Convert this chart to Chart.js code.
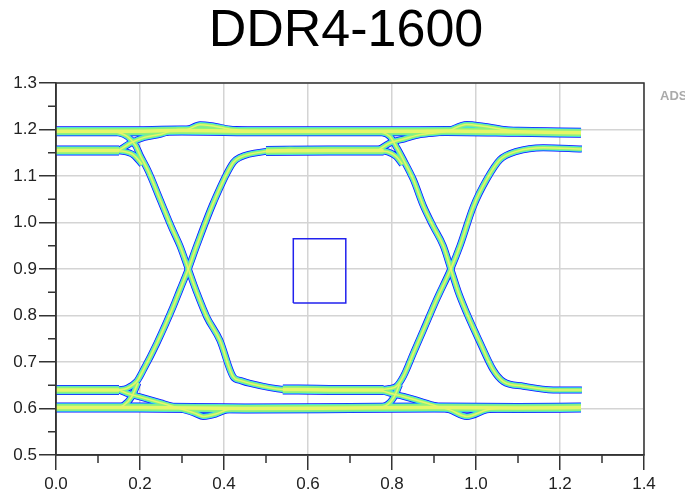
<!DOCTYPE html>
<html>
<head>
<meta charset="utf-8">
<script src="https://cdn.jsdelivr.net/npm/chart.js@4.4.1/dist/chart.umd.min.js"></script>
<style>
  body { margin: 0; background: #fff; }
  #wrap { width: 685px; height: 496px; position: relative; }
</style>
</head>
<body>
<div id="wrap"><canvas id="chart"></canvas></div>
<script>
const chartTitle = "DDR4-1600";

// axis ticks
const xTicks = [0, 0.2, 0.4, 0.6, 0.8, 1.0, 1.2, 1.4];
const yTicks = [0.5, 0.6, 0.7, 0.8, 0.9, 1.0, 1.1, 1.2, 1.3];
const xMinorTicks = [0.1, 0.3, 0.5, 0.7, 0.9, 1.1, 1.3];
const yMinorTicks = [0.55, 0.65, 0.75, 0.85, 0.95, 1.05, 1.15, 1.25];

// eye traces, [time ns, volts]
const highSettled = [[0, 1.196], [0.16, 1.196], [0.3, 1.198], [0.5, 1.196], [0.8, 1.196], [0.93, 1.197], [1.1, 1.195], [1.25, 1.193]];
const highFirst = [[0, 1.155], [0.15, 1.155]];
const highFirstMid = [[0.5, 1.154], [0.65, 1.155], [0.78, 1.155]];
const lowSettled = [[0, 0.602], [0.2, 0.602], [0.45, 0.6], [0.7, 0.601], [0.9, 0.602], [1.1, 0.601], [1.25, 0.602]];
const lowFirst = [[0, 0.64], [0.15, 0.64]];
const lowFirstMid = [[0.54, 0.641], [0.65, 0.64], [0.78, 0.64]];

const riseHighA = [[0.15, 1.155], [0.18, 1.172], [0.21, 1.183], [0.25, 1.19], [0.29, 1.2], [0.31, 1.2], [0.343, 1.21], [0.37, 1.208], [0.42, 1.2], [0.5, 1.197]];
const fallA = [[0.14, 1.196], [0.17, 1.185], [0.19, 1.165], [0.2, 1.145], [0.22, 1.11], [0.248, 1.049], [0.275, 0.99], [0.295, 0.95], [0.315, 0.9], [0.335, 0.85], [0.359, 0.797], [0.39, 0.747], [0.422, 0.668], [0.44, 0.66], [0.462, 0.654], [0.541, 0.641], [0.6, 0.64]];
const fallJoinA = [[0.12, 1.155], [0.16, 1.153], [0.185, 1.145], [0.205, 1.125]];
const riseA = [[0.15, 0.64], [0.168, 0.643], [0.192, 0.658], [0.208, 0.683], [0.24, 0.74], [0.279, 0.819], [0.295, 0.855], [0.315, 0.9], [0.335, 0.95], [0.375, 1.043], [0.422, 1.129], [0.438, 1.14], [0.502, 1.153], [0.557, 1.157], [0.6, 1.155]];
const riseJoinA = [[0.14, 0.602], [0.16, 0.606], [0.18, 0.625], [0.195, 0.655]];
const settleLowA = [[0.15, 0.64], [0.168, 0.633], [0.2, 0.625], [0.25, 0.612], [0.295, 0.6], [0.33, 0.59], [0.351, 0.583], [0.38, 0.588], [0.406, 0.597], [0.45, 0.6]];

const riseHighB = [[0.77, 1.157], [0.795, 1.171], [0.83, 1.18], [0.867, 1.189], [0.93, 1.196], [0.978, 1.211], [1.017, 1.207], [1.065, 1.2], [1.1, 1.197]];
const fallB = [[0.77, 1.196], [0.795, 1.185], [0.812, 1.16], [0.827, 1.135], [0.851, 1.092], [0.875, 1.035], [0.898, 0.992], [0.922, 0.95], [0.94, 0.9], [0.958, 0.85], [0.978, 0.805], [1.01, 0.741], [1.041, 0.683], [1.065, 0.658], [1.113, 0.648], [1.184, 0.64], [1.252, 0.64]];
const fallJoinB = [[0.76, 1.155], [0.79, 1.152], [0.81, 1.142], [0.825, 1.125]];
const riseB = [[0.77, 0.64], [0.795, 0.643], [0.811, 0.648], [0.827, 0.669], [0.851, 0.719], [0.875, 0.769], [0.906, 0.834], [0.94, 0.9], [0.962, 0.95], [0.994, 1.035], [1.025, 1.092], [1.057, 1.135], [1.097, 1.153], [1.16, 1.161], [1.252, 1.158]];
const riseJoinB = [[0.76, 0.602], [0.785, 0.606], [0.805, 0.625], [0.818, 0.652]];
const settleLowB = [[0.77, 0.64], [0.795, 0.633], [0.827, 0.626], [0.906, 0.605], [0.938, 0.597], [0.978, 0.583], [1.025, 0.597], [1.065, 0.601]];

// eye mask box
const maskX = [0.565, 0.69];
const maskY = [0.827, 0.965];

const bands = [highSettled, highFirst, highFirstMid, lowSettled, lowFirst, lowFirstMid];
const edges = [riseHighA, fallA, fallJoinA, riseA, riseJoinA, settleLowA,
               riseHighB, fallB, fallJoinB, riseB, riseJoinB, settleLowB];

// density look: stacked strokes, widest (blue) underneath
const layers = [
  { color: "#1010ff", band: 10, edge: 7 },
  { color: "#38dff2", band: 8.5, edge: 5.5 },
  { color: "#8cf27c", band: 7, edge: 4 },
  { color: "#e6f66a", band: 3.5, edge: 1.5 }
];

const datasets = [];
layers.forEach((layer, i) => {
  const ord = layers.length - i + 1;
  bands.forEach(tr => datasets.push({
    data: tr.map(p => ({ x: p[0], y: p[1] })),
    borderColor: layer.color, borderWidth: layer.band, order: ord,
    pointRadius: 0, cubicInterpolationMode: "monotone"
  }));
  edges.forEach(tr => datasets.push({
    data: tr.map(p => ({ x: p[0], y: p[1] })),
    borderColor: layer.color, borderWidth: layer.edge, order: ord,
    pointRadius: 0, cubicInterpolationMode: "monotone"
  }));
});
datasets.push({
  data: [
    { x: maskX[0], y: maskY[0] }, { x: maskX[1], y: maskY[0] },
    { x: maskX[1], y: maskY[1] }, { x: maskX[0], y: maskY[1] },
    { x: maskX[0], y: maskY[0] }
  ],
  borderColor: "#2222ee", borderWidth: 1.5, order: 0, pointRadius: 0, tension: 0
});

const frame = {
  id: "frame",
  afterDraw(c) {
    const ctx = c.ctx, a = c.chartArea, xs = c.scales.x, ys = c.scales.y;
    ctx.save();
    ctx.strokeStyle = "#333";
    ctx.lineWidth = 1.5;
    ctx.strokeRect(a.left, a.top, a.right - a.left, a.bottom - a.top);
    ctx.beginPath();
    yMinorTicks.forEach(v => {
      const py = ys.getPixelForValue(v);
      ctx.moveTo(a.left - 8, py); ctx.lineTo(a.left, py);
    });
    xMinorTicks.forEach(v => {
      const px = xs.getPixelForValue(v);
      ctx.moveTo(px, a.bottom); ctx.lineTo(px, a.bottom + 8);
    });
    ctx.stroke();
    // title
    ctx.fillStyle = "#000";
    ctx.textAlign = "center";
    ctx.textBaseline = "alphabetic";
    ctx.font = "52px 'Liberation Sans', Arial, sans-serif";
    ctx.fillText(chartTitle, 346, 46);
    ctx.fillStyle = "#aaa";
    ctx.textAlign = "left";
    ctx.font = "bold 13px 'Liberation Sans', Arial, sans-serif";
    ctx.fillText("ADS", 660, 100);
    ctx.restore();
  }
};

new Chart(document.getElementById("chart"), {
  type: "line",
  data: { datasets },
  plugins: [frame],
  options: {
    responsive: true,
    maintainAspectRatio: false,
    animation: false,
    layout: { padding: { left: 0, right: 41, top: 83, bottom: 0 } },
    plugins: {
      legend: { display: false },
      tooltip: { enabled: false },
      title: { display: false }
    },
    scales: {
      x: {
        type: "linear", min: 0, max: 1.4,
        afterBuildTicks: s => { s.ticks = xTicks.map(v => ({ value: v })); },
        afterFit: s => { s.height = 41; },
        ticks: {
          callback: v => v.toFixed(1), color: "#222", padding: 4,
          font: { family: "'Liberation Sans', Arial, sans-serif", size: 17 }
        },
        grid: { color: "#d4d4d4", lineWidth: 1.5, tickColor: "#333", tickLength: 15, tickWidth: 1.5 },
        border: { color: "#333", width: 1.5 }
      },
      y: {
        min: 0.5, max: 1.3,
        afterBuildTicks: s => { s.ticks = yTicks.map(v => ({ value: v })); },
        afterFit: s => { s.width = 56; },
        ticks: {
          callback: v => v.toFixed(1), color: "#222", padding: 2,
          font: { family: "'Liberation Sans', Arial, sans-serif", size: 17 }
        },
        grid: { color: "#d4d4d4", lineWidth: 1.5, tickColor: "#333", tickLength: 17, tickWidth: 1.5 },
        border: { color: "#333", width: 1.5 }
      }
    }
  }
});
</script>
</body>
</html>
